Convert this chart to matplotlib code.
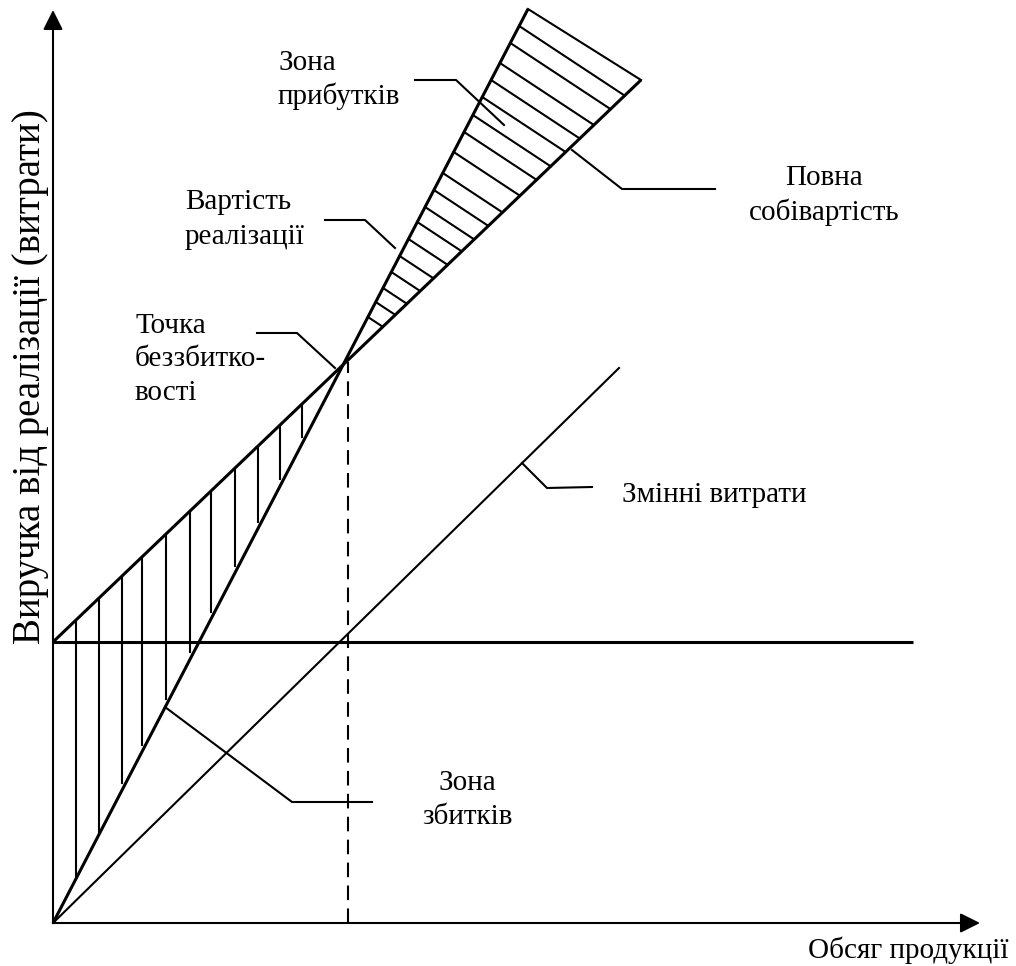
import numpy as np
import matplotlib
matplotlib.use("Agg")
import matplotlib.pyplot as plt

plt.rcParams['font.family'] = ['Liberation Serif', 'DejaVu Serif']

# ---- data (schematic units) ----
revenue_x = [0, 475]
revenue_y = [0, 914]
full_cost_x = [0, 588]
full_cost_y = [281, 843]
variable_x = [0, 566]
variable_y = [0, 555]
fixed_x = [0, 860]
fixed_y = [281, 281]
breakeven_dash_x = 295
breakeven_dash_top = 561
x_axis_end = 927
y_axis_end = 913

loss_hatch_x = [23, 46, 69, 89, 113, 137, 158, 182, 205, 227, 249]
profit_hatch_y = [897, 880, 860, 843, 826, 808, 791, 771, 750, 733, 716,
                  701, 684, 667, 651, 635, 621, 606]

labels = {
    'profit_zone': ["Зона", "прибутків"],
    'revenue': ["Вартість", "реалізації"],
    'breakeven': ["Точка", "беззбитко-", "вості"],
    'full_cost': ["Повна", "собівартість"],
    'variable': ["Змінні витрати"],
    'loss_zone': ["Зона", "збитків"],
}
x_label = "Обсяг продукції"
y_label = "Виручка від реалізації (витрати)"

leaders = {
    'profit_zone': [(362, 843), (403, 843), (451, 798)],
    'revenue': [(272, 703), (312, 703), (342, 675)],
    'full_cost': [(519, 773), (569, 734), (662, 734)],
    'breakeven': [(204, 590), (244, 590), (282, 555)],
    'loss_zone': [(112, 216), (239, 121), (319, 121)],
    'variable': [(469, 460), (494, 435), (539, 436)],
}

# ---- figure ----
fig = plt.figure(figsize=(10.16, 9.66), dpi=100)
ax = fig.add_axes([0, 0, 1, 1])
ax.set_xlim(-53, 963)
ax.set_ylim(-43, 923)
ax.axis('off')

K = 'black'
thick = 2.2
thin = 1.5

def line_fn(xs, ys):
    k = (ys[1] - ys[0]) / (xs[1] - xs[0])
    return lambda x: ys[0] + k * (x - xs[0]), k

rev_f, rev_k = line_fn(revenue_x, revenue_y)
fc_f, fc_k = line_fn(full_cost_x, full_cost_y)

ax.plot(revenue_x, revenue_y, color=K, lw=thick, solid_capstyle='butt')
ax.plot(full_cost_x, full_cost_y, color=K, lw=thick, solid_capstyle='butt')
ax.plot(fixed_x, fixed_y, color=K, lw=thick, solid_capstyle='butt')
ax.plot(variable_x, variable_y, color=K, lw=thin)
ax.plot([revenue_x[1], full_cost_x[1]], [revenue_y[1], full_cost_y[1]], color=K, lw=thin)

ax.plot([breakeven_dash_x, breakeven_dash_x], [0, breakeven_dash_top], color=K, lw=thin,
        dashes=(7, 4))

for i, x in enumerate(loss_hatch_x):
    top = fc_f(x)
    bot = rev_f(x)
    trim = 0 if i < 2 else 7
    ax.plot([x, x], [bot + trim, top], color=K, lw=thin)

s = 0.66
for y0 in profit_hatch_y:
    x0 = y0 / rev_k
    x1 = (y0 + s * x0 - full_cost_y[0]) / (fc_k + s)
    y1 = fc_f(x1)
    ax.plot([x0, x1], [y0, y1], color=K, lw=thin)

ax.annotate('', xy=(x_axis_end, 0), xytext=(0, 0),
            arrowprops=dict(arrowstyle='-|>,head_length=0.8,head_width=0.4',
                            mutation_scale=15, lw=thin, color=K, shrinkA=0, shrinkB=0))
ax.annotate('', xy=(0, y_axis_end), xytext=(0, 0),
            arrowprops=dict(arrowstyle='-|>,head_length=0.8,head_width=0.4',
                            mutation_scale=15, lw=thin, color=K, shrinkA=0, shrinkB=0))

for key, pts in leaders.items():
    xs, ys = zip(*pts)
    ax.plot(xs, ys, color=K, lw=thin)

fs = 21
def put(lines, x, y0, step=34, ha='left'):
    for i, t in enumerate(lines):
        ax.text(x, y0 - i * step, t, fontsize=fs, ha=ha, va='baseline', color=K)

put(labels['profit_zone'], 225, 853)
put(labels['revenue'], 132, 714, step=35)
put(labels['breakeven'], 82, 590, step=33.5)
put(labels['full_cost'], 771, 738, step=35, ha='center')
put(labels['variable'], 569, 421)
put(labels['loss_zone'], 414, 133, ha='center')
ax.text(955, -35, x_label, fontsize=fs, ha='right', va='baseline', color=K)
ax.text(-22, 546, y_label, fontsize=28, rotation=90, ha='center', va='center', color=K)

fig.savefig('out.png', dpi=100)
